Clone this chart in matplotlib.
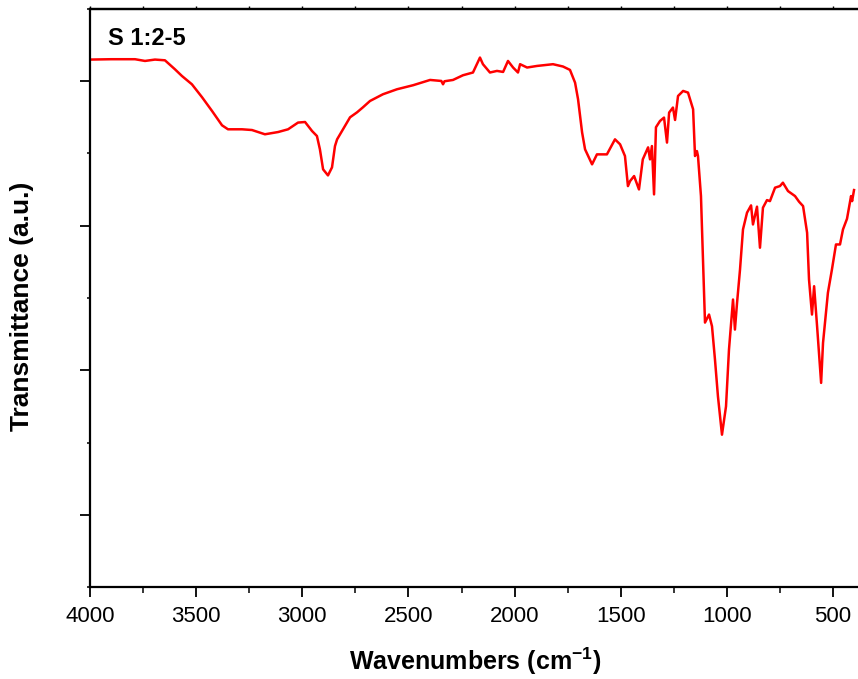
import matplotlib
matplotlib.use("Agg")
import matplotlib.pyplot as plt
from matplotlib.ticker import MultipleLocator

wavenumber = [4000, 3900, 3788, 3741, 3694, 3647, 3600, 3567, 3520, 3472, 3425, 3378, 3350,
              3284, 3237, 3176, 3114, 3067, 3020, 2987, 2954, 2931, 2917, 2902, 2879, 2860,
              2846, 2836, 2808, 2775, 2742, 2714, 2681, 2620, 2554, 2478, 2398, 2345, 2337,
              2330, 2290, 2243, 2196, 2163, 2149, 2116, 2083, 2054, 2031, 2007, 1984, 1974,
              1941, 1894, 1819, 1772, 1739, 1715, 1701, 1682, 1668, 1635, 1612, 1565, 1527,
              1503, 1480, 1466, 1456, 1437, 1414, 1396, 1371, 1362, 1353, 1343, 1334, 1315,
              1296, 1282, 1272, 1254, 1244, 1230, 1206, 1183, 1159, 1150, 1141, 1136, 1122,
              1112, 1103, 1084, 1070, 1056, 1042, 1023, 1004, 990, 971, 962, 952, 938, 924,
              905, 886, 877, 858, 844, 830, 811, 797, 773, 750, 736, 712, 679, 660, 641, 622,
              613, 599, 589, 575, 556, 547, 533, 524, 505, 486, 467, 453, 434, 425, 415, 410, 401]
transmittance = [83.0, 83.05, 83.05, 82.81, 83.0, 82.9, 81.66, 80.73, 79.58, 77.78, 75.88, 73.9, 73.35,
                 73.35, 73.25, 72.66, 72.97, 73.35, 74.28, 74.36, 73.11, 72.42, 70.58, 67.81, 66.97, 68.08,
                 71.03, 71.96, 73.35, 75.01, 75.70, 76.40, 77.27, 78.20, 78.89, 79.45, 80.18, 80.04, 79.58,
                 80.0, 80.18, 80.83, 81.21, 83.28, 82.36, 81.21, 81.43, 81.29, 82.81, 81.90, 81.21, 82.36,
                 81.90, 82.12, 82.36, 82.04, 81.57, 79.8, 77.51, 72.93, 70.58, 68.50, 69.88, 69.88, 71.96,
                 71.27, 69.65, 65.49, 66.18, 66.88, 65.03, 69.19, 70.85, 69.19, 71.03, 64.34, 73.63, 74.50,
                 74.97, 71.51, 75.66, 76.36, 74.64, 77.96, 78.66, 78.43, 76.12, 69.65, 70.34, 69.65, 64.11,
                 54.92, 46.60, 47.71, 46.09, 41.48, 36.39, 31.08, 35.0, 42.86, 49.79, 45.63, 49.33, 53.95, 59.49,
                 61.81, 62.82, 60.18, 62.64, 56.96, 62.50, 63.55, 63.41, 65.27, 65.49, 65.96, 64.80, 64.11, 63.33, 62.72, 59.03,
                 52.56, 47.71, 51.63, 46.09, 38.25, 43.79, 47.95, 50.72, 53.95, 57.41, 57.41, 59.49, 60.97, 62.50, 64.11, 63.41, 64.94]

x_ticks = [4000, 3500, 3000, 2500, 2000, 1500, 1000, 500]
y_ticks = [20, 40, 60, 80]
sample_label = "S 1:2-5"

plt.rcParams['font.family'] = ['Liberation Sans', 'DejaVu Sans']
plt.rcParams['mathtext.fontset'] = 'custom'
plt.rcParams['mathtext.rm'] = 'Liberation Sans:bold'
plt.rcParams['mathtext.bf'] = 'Liberation Sans:bold'
plt.rcParams['mathtext.default'] = 'bf'

fig = plt.figure(figsize=(8.58, 6.79), dpi=100)
ax = fig.add_axes([90/858, 92/679, 770.6/858, 578/679])
ax.plot(wavenumber, transmittance, color='#ff0000', lw=1.8)
ax.set_xlim(4000, 370)
ax.set_ylim(10, 90)
ax.set_xticks(x_ticks)
ax.xaxis.set_minor_locator(MultipleLocator(250))
ax.set_yticks(y_ticks)
ax.yaxis.set_minor_locator(MultipleLocator(10))
ax.set_yticklabels([])
ax.tick_params(which='major', direction='out', length=7, width=1.3, labelsize=16, pad=7)
ax.tick_params(which='minor', direction='out', length=4, width=1.1)
ax.tick_params(axis='y', which='minor', length=2)
for s in ax.spines.values():
    s.set_linewidth(1.6)
ax.spines['right'].set_visible(False)

top = ax.secondary_xaxis('top')
top.set_xticks(x_ticks)
top.xaxis.set_minor_locator(MultipleLocator(250))
top.tick_params(which='both', direction='out', length=2, width=1.0, labeltop=False)
top.spines['top'].set_linewidth(1.6)

ax.set_xlabel(r"Wavenumbers (cm$^{-1}$)", fontsize=18, fontweight='bold')
ax.set_ylabel("Transmittance (a.u.)", fontsize=19, fontweight='bold')
ax.xaxis.label.set_va('center')
ax.yaxis.label.set_va('center')
ax.xaxis.set_label_coords(0.5, -74/578)
ax.yaxis.set_label_coords(-68/770.6, 281/578)
ax.text(18/770.6, 1 - 18/578, sample_label, transform=ax.transAxes, fontsize=17, fontweight='bold',
        ha='left', va='top')
fig.savefig("out.png", dpi=100)
